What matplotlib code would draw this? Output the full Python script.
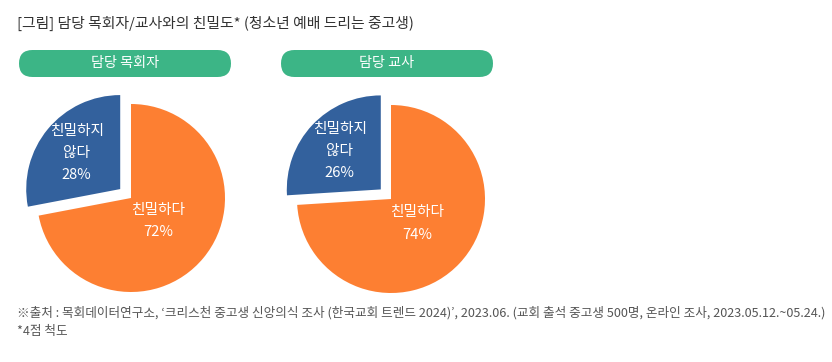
import numpy as np
import matplotlib
matplotlib.use("Agg")
import matplotlib.pyplot as plt
from matplotlib.patches import FancyBboxPatch

plt.rcParams['font.family'] = ['Noto Sans CJK KR', 'DejaVu Sans']

# 데이터
groups = ["담당 목회자", "담당 교사"]
categories = ["친밀하다", "친밀하지\n않다"]
values_pastor = [72, 28]
values_teacher = [74, 26]
all_values = [values_pastor, values_teacher]

title = "[그림] 담당 목회자/교사와의 친밀도* (청소년 예배 드리는 중고생)"
source = ("※출처 : 목회데이터연구소, ‘크리스천 중고생 신앙의식 조사 (한국교회 트렌드 2024)’, "
          "2023.06. (교회 출석 중고생 500명, 온라인 조사, 2023.05.12.~05.24.)")
note = "*4점 척도"

colors = ["#FD7F32", "#33619D"]
green = "#3CB586"

W, H = 832, 362
fig = plt.figure(figsize=(W / 100, H / 100), dpi=100)
ax = fig.add_axes([0, 0, 1, 1])
ax.set_xlim(0, W)
ax.set_ylim(0, H)
ax.set_aspect("equal")
ax.axis("off")

fig.text(17 / W, 1 - 23 / H, title, fontsize=10.7, color="#333333", va="center", ha="left")

centers = [(131, H - 198), (391, H - 199)]
pills = [(19, 231), (281, 493)]
radius = 94
label_dist = [0.38, 0.6]

for vals, grp, c, (px0, px1) in zip(all_values, groups, centers, pills):
    # 상단 라벨 박스
    ph = 27
    py = H - 77
    box = FancyBboxPatch((px0, py), px1 - px0, ph,
                         boxstyle=f"round,pad=0,rounding_size={ph/2}",
                         fc=green, ec="none")
    ax.add_patch(box)
    ax.text((px0 + px1) / 2, py + ph / 2, grp, color="white", fontsize=10.2,
            ha="center", va="center")

    wedges, _ = ax.pie(vals, colors=colors, startangle=90, counterclock=False,
                       center=c, radius=radius, explode=[0, 14],
                       wedgeprops=dict(linewidth=0))
    for w, cat, v, d in zip(wedges, categories, vals, label_dist):
        tm = np.deg2rad((w.theta1 + w.theta2) / 2)
        cx, cy = w.center
        ax.text(cx + d * radius * np.cos(tm), cy + d * radius * np.sin(tm),
                f"{cat}\n{v}%", color="white", fontsize=10.6, ha="center",
                va="center", linespacing=1.75)

ax.set_xlim(0, W)
ax.set_ylim(0, H)

fig.text(17 / W, 1 - 313 / H, source, fontsize=9.1, color="#555555", va="center", ha="left")
fig.text(17 / W, 1 - 331 / H, note, fontsize=9.1, color="#555555", va="center", ha="left")

fig.savefig("out.png", dpi=100)
